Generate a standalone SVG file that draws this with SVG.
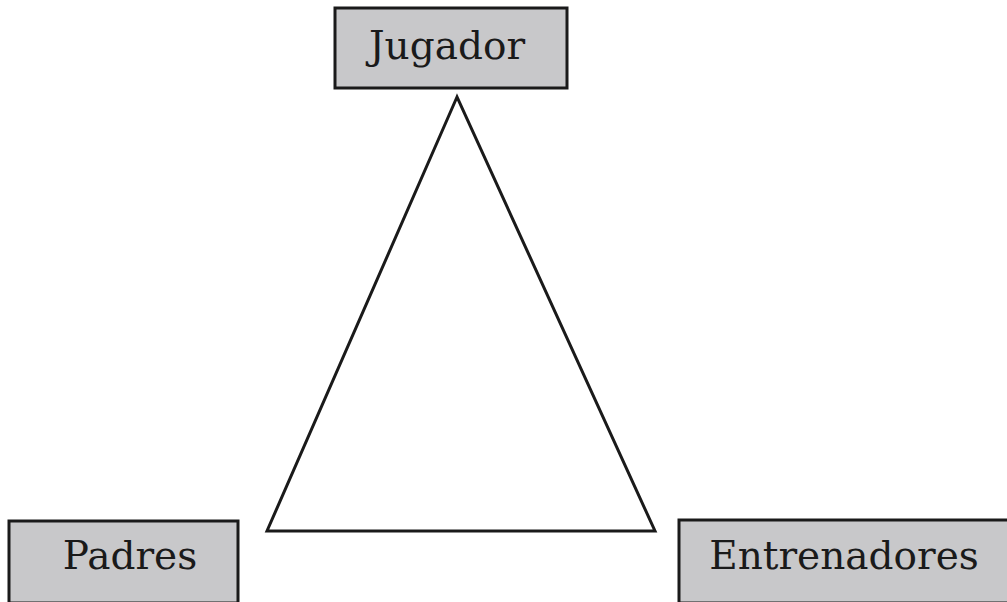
<svg xmlns="http://www.w3.org/2000/svg" width="1007" height="602" viewBox="0 0 1007 602">
<style>
.box{fill:#c8c8ca;stroke:#1a1a1a;stroke-width:3}
.lbl{font-family:"DejaVu Serif","Liberation Serif",serif;font-size:39px;fill:#1a1a1a;text-anchor:middle}
.edge{fill:none;stroke:#1a1a1a;stroke-width:3;stroke-linejoin:miter}
</style>
<rect width="1007" height="602" fill="#ffffff"/>
<g id="connectors">
<polygon class="edge" points="457,97 267,531 655,531"/>
</g>
<g id="jugador">
<rect class="box" x="335" y="8" width="232" height="80"/>
<text class="lbl" x="447" y="59">Jugador</text>
</g>
<g id="padres">
<rect class="box" x="9" y="521" width="229" height="82"/>
<text class="lbl" x="130" y="569">Padres</text>
</g>
<g id="entrenadores">
<rect class="box" x="679" y="520" width="330" height="83"/>
<text class="lbl" x="844" y="569">Entrenadores</text>
</g>
</svg>
